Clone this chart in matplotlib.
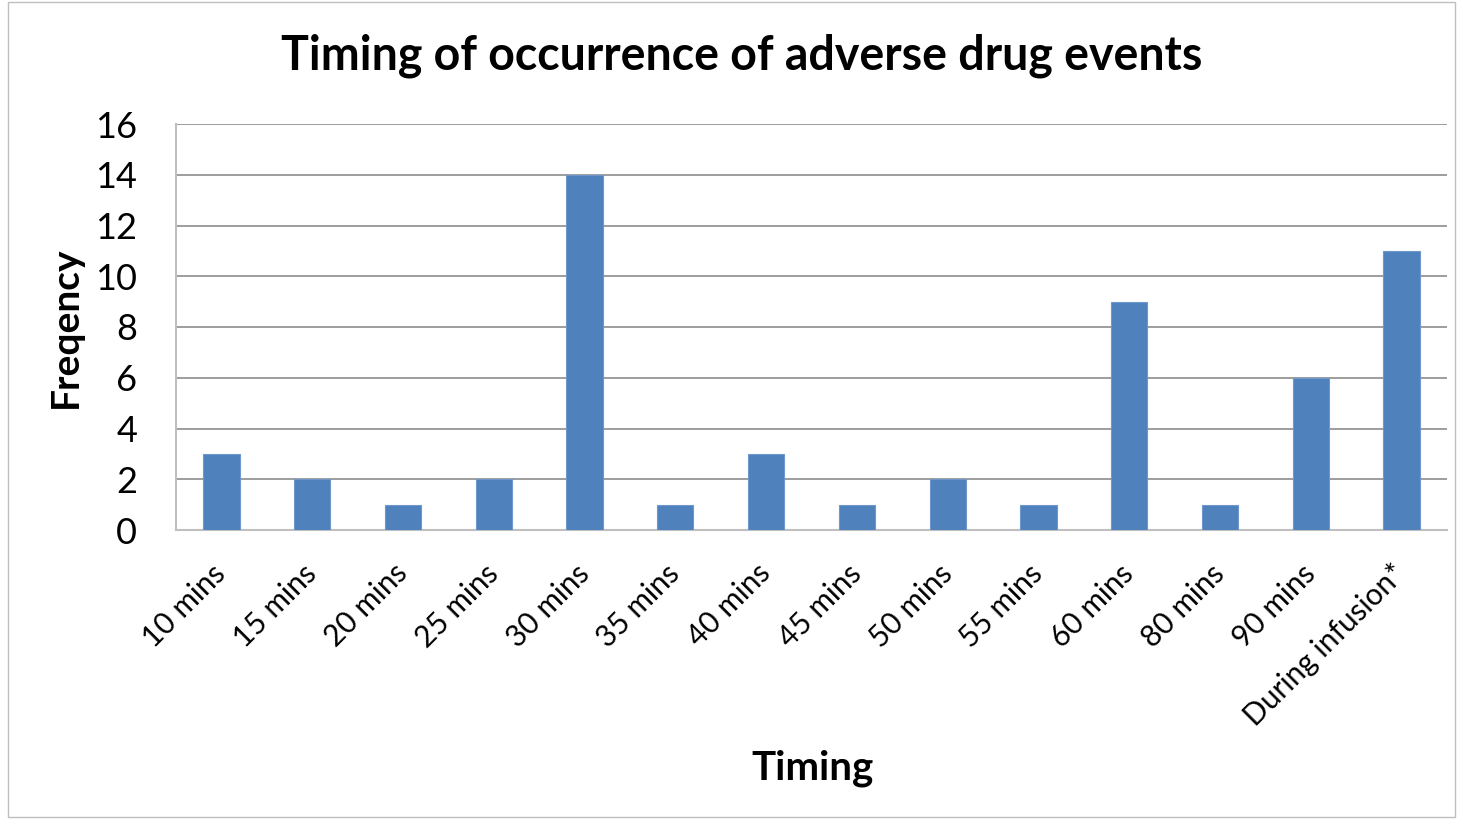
import matplotlib.pyplot as plt
from matplotlib.patches import Rectangle

plt.rcParams['font.family'] = ['Lato', 'DejaVu Sans']

# timing categories and counts
timing = ["10 mins", "15 mins", "20 mins", "25 mins", "30 mins", "35 mins", "40 mins",
          "45 mins", "50 mins", "55 mins", "60 mins", "80 mins", "90 mins", "During infusion*"]
frequency = [3, 2, 1, 2, 14, 1, 3, 1, 2, 1, 9, 1, 6, 11]
y_ticks = [0, 2, 4, 6, 8, 10, 12, 14, 16]

fig = plt.figure(figsize=(14.58, 8.19), dpi=100)
ax = fig.add_axes([176 / 1458, 1 - 530 / 819, 1271 / 1458, 406 / 819])

x = range(len(timing))
ax.bar(x, frequency, width=0.4, color="#4F81BD", edgecolor="#6E97CC", linewidth=0.8, zorder=3)

ax.set_xlim(-0.5, len(timing) - 0.5)
ax.set_ylim(0, 16)
ax.set_yticks(y_ticks)
ax.set_xticks(list(x))
ax.set_xticklabels(timing, rotation=45, ha="right", va="center",
                   rotation_mode="anchor", fontsize=21.5)
ax.tick_params(axis="y", length=0, pad=28, labelsize=26)
ax.tick_params(axis="x", length=0, pad=28)

ax.grid(axis="y", color="#8C8C8C", linewidth=1.2, zorder=0)
for s in ["top", "right"]:
    ax.spines[s].set_visible(False)
for s in ["left", "bottom"]:
    ax.spines[s].set_color("#BFBFBF")
    ax.spines[s].set_linewidth(1.5)

fig.text(0.509, 1 - 56 / 819, "Timing of occurrence of adverse drug events",
         ha="center", va="center", fontsize=33.5, fontweight="bold")
fig.text(65 / 1458, 1 - 327 / 819, "Freqency", rotation=90, ha="center", va="center",
         fontsize=28, fontweight="bold")
fig.text(812 / 1458, 1 - 768 / 819, "Timing", ha="center", va="center",
         fontsize=29, fontweight="bold")

fig.patches.append(Rectangle((8 / 1458, 2 / 819), 1447 / 1458, 815 / 819,
                             transform=fig.transFigure, fill=False,
                             edgecolor="#BFBFBF", linewidth=1))

fig.savefig("out.png", dpi=100)
